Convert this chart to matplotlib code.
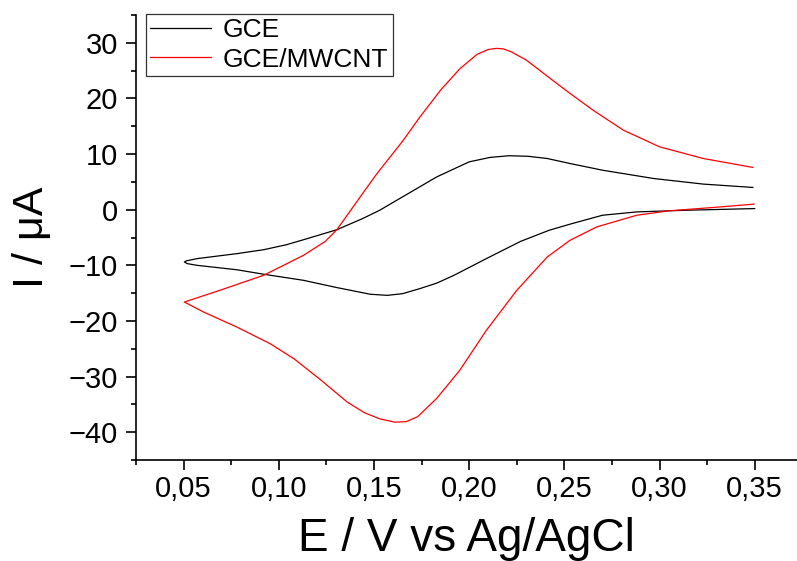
import numpy as np
import matplotlib
matplotlib.use("Agg")
import matplotlib.pyplot as plt
from matplotlib.ticker import MultipleLocator, FuncFormatter

plt.rcParams['font.family'] = ['Liberation Sans', 'DejaVu Sans']

# CV of bare GCE: upper branch (right -> left), then lower branch (left -> right)
gce_E = [0.349, 0.323, 0.297, 0.270, 0.253, 0.241, 0.231, 0.221, 0.211, 0.200,
         0.183, 0.165, 0.153, 0.144, 0.1305, 0.113, 0.104, 0.092, 0.078, 0.057,
         0.0515, 0.0504,
         0.052, 0.057, 0.078, 0.092, 0.113, 0.1305, 0.148, 0.157, 0.165, 0.174,
         0.183, 0.192, 0.209, 0.227, 0.242, 0.253, 0.270, 0.288, 0.314, 0.350]
gce_I = [4.0, 4.6, 5.6, 7.1, 8.3, 9.2, 9.6, 9.7, 9.4, 8.6,
         5.9, 2.3, -0.1, -1.6, -3.6, -5.4, -6.3, -7.2, -7.9, -8.8,
         -9.2, -9.4,
         -9.7, -10.0, -10.8, -11.6, -12.7, -14.0, -15.2, -15.4, -15.1, -14.2,
         -13.2, -11.8, -8.8, -5.7, -3.7, -2.6, -1.0, -0.4, -0.1, 0.2]

# CV of GCE/MWCNT
mw_E = [0.349, 0.323, 0.300, 0.281, 0.265, 0.253, 0.246, 0.230, 0.222, 0.218,
        0.2144, 0.210, 0.204, 0.195, 0.185, 0.174, 0.165, 0.1516, 0.144, 0.138,
        0.1305, 0.1244, 0.113, 0.092, 0.069, 0.0504,
        0.0605, 0.078, 0.0955, 0.108, 0.122, 0.136, 0.145, 0.153, 0.161, 0.167,
        0.173, 0.183, 0.195, 0.209, 0.225, 0.241, 0.253, 0.267, 0.288, 0.305,
        0.332, 0.3496]
mw_I = [7.6, 9.2, 11.3, 14.3, 17.9, 20.9, 22.7, 26.9, 28.4, 28.9,
        29.0, 28.8, 27.9, 25.3, 21.5, 16.6, 12.3, 6.5, 2.9, 0.0,
        -3.6, -5.7, -8.2, -11.8, -14.5, -16.6,
        -18.4, -21.1, -24.1, -26.8, -30.6, -34.6, -36.5, -37.6, -38.2, -38.1,
        -37.2, -33.9, -28.9, -21.7, -14.5, -8.5, -5.5, -3.1, -1.0, -0.2,
        0.5, 1.0]

labels = ["GCE", "GCE/MWCNT"]

fig = plt.figure(figsize=(7.97, 5.61), dpi=100)
ax = fig.add_axes([136 / 797, 101 / 561, 1 - 136 / 797, 445 / 561])

ax.plot(gce_E, gce_I, color="black", lw=0.9, label=labels[0])
ax.plot(mw_E, mw_I, color="red", lw=0.9, label=labels[1])

ax.set_xlim(0.025, 0.3722)
ax.set_ylim(-45, 35)

ax.xaxis.set_major_locator(MultipleLocator(0.05))
ax.xaxis.set_minor_locator(MultipleLocator(0.025))
ax.yaxis.set_major_locator(MultipleLocator(10))
ax.yaxis.set_minor_locator(MultipleLocator(5))
ax.xaxis.set_major_formatter(FuncFormatter(lambda v, p: f"{v:.2f}".replace(".", ",")))

for s in ["top", "right"]:
    ax.spines[s].set_visible(False)
for s in ["left", "bottom"]:
    ax.spines[s].set_linewidth(1.2)

ax.tick_params(which="major", direction="out", length=7, width=1.2, labelsize=21)
ax.tick_params(which="minor", direction="out", length=3.5, width=1.2)
ax.tick_params(axis="x", which="major", pad=4)
ax.tick_params(axis="y", which="major", pad=6)

ax.set_xlabel("E / V vs Ag/AgCl", fontsize=33, labelpad=10)
ax.set_ylabel("I / \u03bcA", fontsize=31, labelpad=12)

leg = ax.legend(loc="upper left", bbox_to_anchor=(0.0147, 1.003), borderaxespad=0,
                fontsize=19, frameon=True, fancybox=False, edgecolor="black",
                handlelength=2.3, handletextpad=0.45, borderpad=0.18, labelspacing=0.2)
leg.get_frame().set_linewidth(0.9)

fig.savefig("out.png", dpi=100)
